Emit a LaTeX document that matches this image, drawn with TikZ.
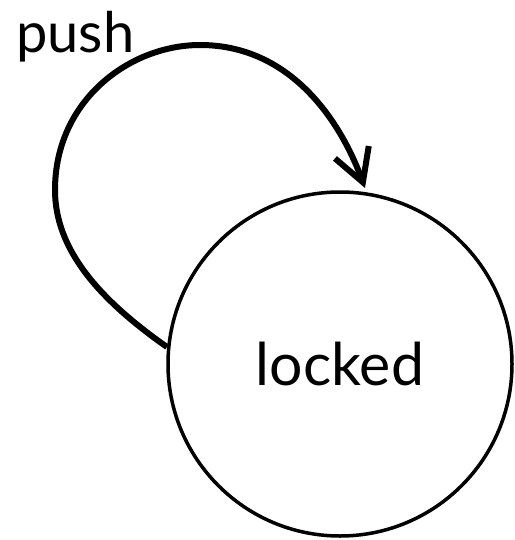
\documentclass[tikz,border=0pt]{standalone}
\usepackage{fontspec}
\setmainfont{Lato}
\usetikzlibrary{arrows.meta}
\begin{document}
\begin{tikzpicture}[x=1pt,y=-1pt,
  state/.style={circle,draw,line width=3.5pt,minimum size=344pt,inner sep=0pt,font=\fontsize{59}{61}\selectfont},
  trans/.style={line width=6pt,-{Straight Barb[length=32pt,width=36pt,line width=6pt]}},
  lbl/.style={font=\fontsize{56}{58}\selectfont,inner sep=0pt}]
\useasboundingbox (0,0) rectangle (514,540);
\node[state] (locked) at (340,364) {locked};
\node[lbl,anchor=base west] (push) at (16,53) {push};
\coordinate (s) at (167,347);
\coordinate (e) at (365,188);
\draw[trans] (s) .. controls (100,300) and (55,250) .. (55,190)
  .. controls (55,100) and (130,45) .. (200,45)
  .. controls (290,45) and (340,120) .. (e);
\end{tikzpicture}
\end{document}
